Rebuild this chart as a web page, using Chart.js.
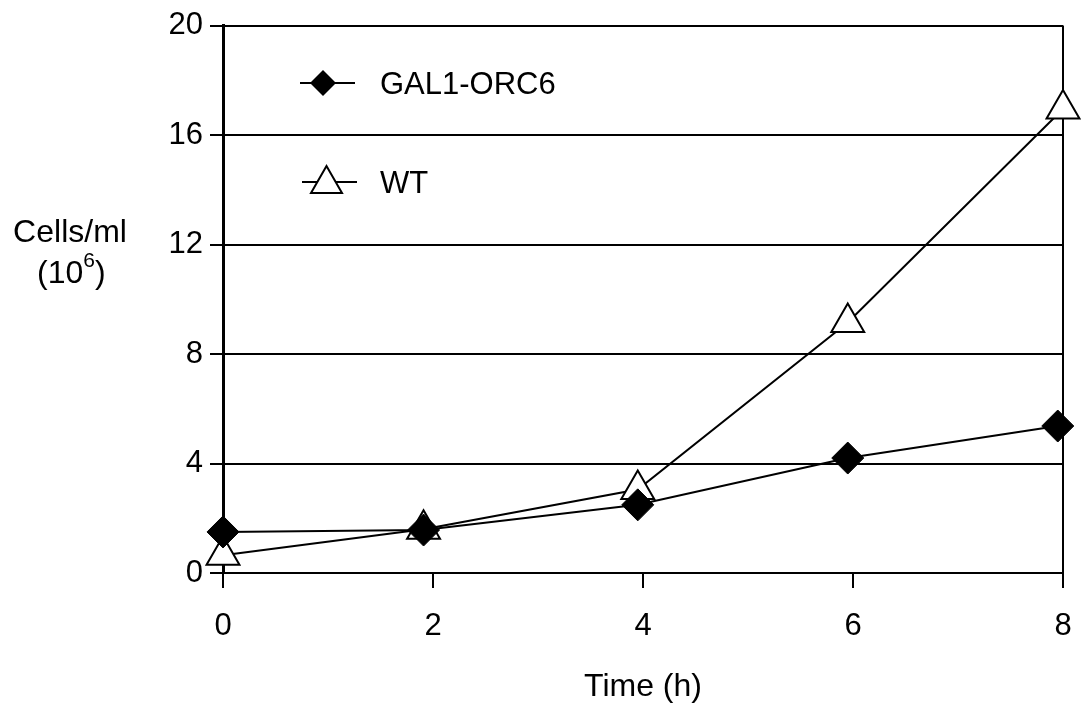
<!DOCTYPE html>
<html>
<head>
<meta charset="utf-8">
<script src="https://cdn.jsdelivr.net/npm/chart.js@4/dist/chart.umd.min.js"></script>
<style>
  html, body { margin: 0; padding: 0; background: #fff; }
  #wrap { width: 1084px; height: 707px; }
</style>
</head>
<body>
<div id="wrap"><canvas id="growth" width="1084" height="707"></canvas></div>
<script>
// values
const timeGal = [0, 1.91, 3.95, 5.95, 7.95];
const cellsGal = [1.5, 1.57, 2.49, 4.2, 5.37];
const timeWt = [0, 1.91, 3.95, 5.95, 8.0];
const cellsWt = [0.65, 1.6, 3.05, 9.15, 16.95];
const seriesNames = ['GAL1-ORC6', 'WT'];
const xTicks = [0, 2, 4, 6, 8];
const yTicks = [0, 4, 8, 12, 16, 20];

const FONT = "'Liberation Sans', Arial, sans-serif";

const toPoints = (xs, ys) => xs.map((x, i) => ({ x: x, y: ys[i] }));

// legend in the top-left of the plot + y title written horizontally
const extras = {
  id: 'extras',
  afterDraw(chart) {
    const ctx = chart.ctx;
    ctx.save();
    ctx.strokeStyle = '#000';
    ctx.fillStyle = '#000';
    ctx.lineWidth = 2;

    // legend row 1: diamond
    ctx.beginPath();
    ctx.moveTo(300, 83); ctx.lineTo(355, 83);
    ctx.stroke();
    ctx.beginPath();
    ctx.moveTo(323, 70); ctx.lineTo(336, 83); ctx.lineTo(323, 96); ctx.lineTo(310, 83);
    ctx.closePath();
    ctx.fill();

    // legend row 2: open triangle
    ctx.beginPath();
    ctx.moveTo(302, 182); ctx.lineTo(357, 182);
    ctx.stroke();
    ctx.beginPath();
    ctx.moveTo(326.5, 166); ctx.lineTo(342, 193); ctx.lineTo(311, 193);
    ctx.closePath();
    ctx.fillStyle = '#fff';
    ctx.fill();
    ctx.stroke();

    ctx.fillStyle = '#000';
    ctx.font = '31px ' + FONT;
    ctx.textBaseline = 'alphabetic';
    ctx.textAlign = 'left';
    ctx.fillText(seriesNames[0], 380, 94);
    ctx.fillText(seriesNames[1], 380, 193);

    // y title
    ctx.font = '32px ' + FONT;
    ctx.textAlign = 'center';
    ctx.fillText('Cells/ml', 70, 242);
    ctx.textAlign = 'left';
    let x = 37;
    ctx.fillText('(10', x, 283);
    x += ctx.measureText('(10').width;
    ctx.font = '21px ' + FONT;
    ctx.fillText('6', x, 267);
    x += ctx.measureText('6').width;
    ctx.font = '32px ' + FONT;
    ctx.fillText(')', x, 283);
    ctx.restore();
  }
};

new Chart(document.getElementById('growth'), {
  type: 'line',
  data: {
    datasets: [
      {
        label: seriesNames[0],
        data: toPoints(timeGal, cellsGal),
        borderColor: '#000',
        borderWidth: 2,
        pointStyle: 'rectRot',
        pointRadius: 16,
        pointBackgroundColor: '#000',
        pointBorderColor: '#000',
        pointBorderWidth: 1,
        clip: false
      },
      {
        label: seriesNames[1],
        data: toPoints(timeWt, cellsWt),
        borderColor: '#000',
        borderWidth: 2,
        pointStyle: 'triangle',
        pointRadius: 19,
        pointBackgroundColor: '#fff',
        pointBorderColor: '#000',
        pointBorderWidth: 2,
        clip: false
      }
    ]
  },
  options: {
    responsive: false,
    animation: false,
    layout: { padding: { left: 100, top: 25, right: 10, bottom: 0 } },
    plugins: { legend: { display: false }, tooltip: { enabled: false } },
    scales: {
      x: {
        type: 'linear',
        min: 0,
        max: 8,
        afterBuildTicks: (s) => { s.ticks = xTicks.map(v => ({ value: v })); },
        afterFit: (s) => { s.height = 134; s.paddingLeft = 0; s.paddingRight = 0; },
        border: { display: true, color: '#000', width: 2 },
        grid: {
          drawOnChartArea: true,
          color: (c) => (c.tick && c.tick.value === 8 ? '#000' : 'rgba(0,0,0,0)'),
          tickColor: '#000',
          lineWidth: 2,
          tickLength: 15
        },
        ticks: { color: '#000', font: { family: FONT, size: 31 }, padding: 20 },
        title: {
          display: true,
          text: 'Time (h)',
          color: '#000',
          font: { family: FONT, size: 32 },
          padding: { top: 0, bottom: 1 }
        }
      },
      y: {
        min: 0,
        max: 20,
        afterBuildTicks: (s) => { s.ticks = yTicks.map(v => ({ value: v })); },
        afterFit: (s) => { s.width = 123; },
        border: { display: true, color: '#000', width: 3 },
        grid: { color: '#000', lineWidth: 2, tickLength: 13, tickColor: '#000' },
        ticks: { color: '#000', font: { family: FONT, size: 31 }, padding: 7 }
      }
    }
  },
  plugins: [extras]
});
</script>
</body>
</html>
